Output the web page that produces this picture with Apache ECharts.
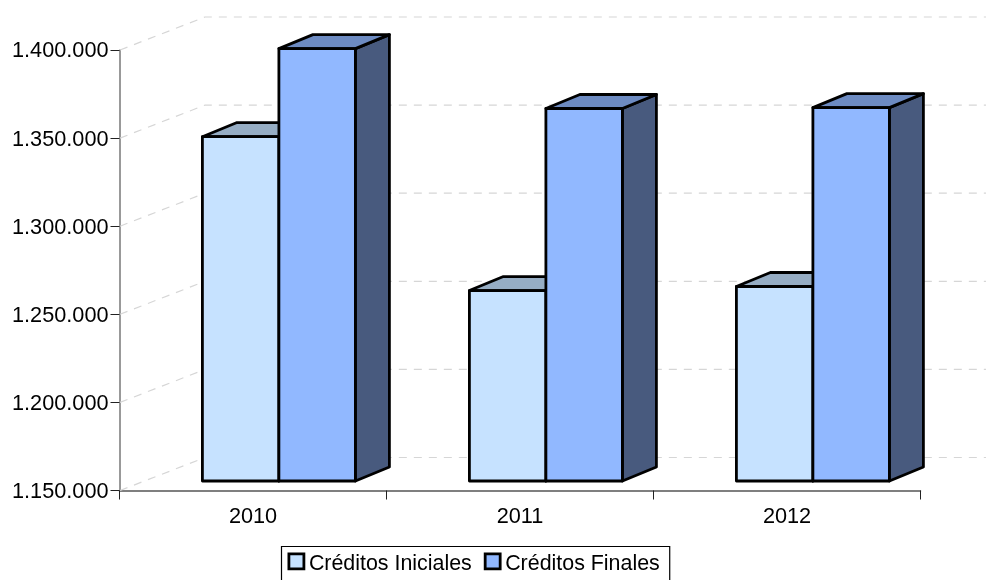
<!DOCTYPE html>
<html>
<head>
<meta charset="utf-8">
<style>html,body{margin:0;padding:0;background:#fff}#c{width:990px;height:580px}</style>
<script src="https://cdn.jsdelivr.net/npm/echarts@6/dist/echarts.min.js"></script>
</head>
<body>
<div id="c"></div>
<script>
var categories = ['2010', '2011', '2012'];
var creditosIniciales = [1345400, 1258100, 1260400];
var creditosFinales = [1395400, 1361400, 1361900];
var yTicks = [1150000, 1200000, 1250000, 1300000, 1350000, 1400000];

var FONT = '"Liberation Sans", Arial, sans-serif';
var FS = 21.7;
var BASE = 1150000;

var chart = echarts.init(document.getElementById('c'), null, {renderer: 'canvas'});

function bar3d(colors, shift) {
  return function (params, api) {
    var cat = api.value(0), val = api.value(1);
    var top = api.coord([cat, val]);
    var bot = api.coord([cat, BASE]);
    var w = 76.5, dx = 34, dy = 14;
    var x0 = top[0] + shift, x1 = x0 + w;
    var yt = top[1] - 9.5, yb = bot[1] - 9.5;
    var st = {stroke: '#000', lineWidth: 2.8, lineJoin: 'round'};
    function poly(points, fill) {
      return {type: 'polygon', shape: {points: points}, style: Object.assign({fill: fill}, st)};
    }
    return {type: 'group', children: [
      poly([[x1, yt], [x1 + dx, yt - dy], [x1 + dx, yb - dy], [x1, yb]], colors.side),
      poly([[x0, yt], [x0 + dx, yt - dy], [x1 + dx, yt - dy], [x1, yt]], colors.top),
      poly([[x0, yt], [x1, yt], [x1, yb], [x0, yb]], colors.front)
    ]};
  };
}

function wall(params, api) {
  var p = api.coord([0, api.value(0)]);
  var x = 120, y = p[1];
  return {type: 'polyline', silent: true, shape: {points: [[x, y], [205, y - 33], [986, y - 33]]},
    style: {fill: null, stroke: '#d6d6d6', lineWidth: 1.2, lineDash: [8, 7]}};
}

chart.setOption({
  animation: false,
  backgroundColor: '#fff',
  grid: {left: 119.5, right: 69.5, top: 50, bottom: 89.5, containLabel: false},
  xAxis: {
    type: 'category', data: categories,
    axisLine: {lineStyle: {color: '#555', width: 1.5}},
    axisTick: {show: true, length: 9, lineStyle: {color: '#222', width: 1}},
    axisLabel: {color: '#000', fontFamily: FONT, fontSize: FS, margin: 16},
    splitLine: {show: false}
  },
  yAxis: {
    type: 'value', min: 1150000, max: 1400000, interval: 50000,
    axisLine: {show: true, lineStyle: {color: '#777', width: 1.5}},
    axisTick: {show: true, length: 9, lineStyle: {color: '#222', width: 1}},
    axisLabel: {
      color: '#000', fontFamily: FONT, fontSize: FS, margin: 11,
      formatter: function (v) { return '{a|' + String(v).replace(/\B(?=(\d{3})+$)/g, '.') + '}'; },
      rich: {a: {color: '#000', fontFamily: FONT, fontSize: FS, padding: [3, 0, 0, 0]}}
    },
    splitLine: {show: false}
  },
  legend: {
    left: 281.5, top: 546.5,
    padding: [6, 10, 20, 6],
    borderColor: '#000', borderWidth: 1.2, backgroundColor: '#fff',
    itemWidth: 15, itemHeight: 15, itemGap: 12,
    formatter: function (name) { return '{a|' + name + '}'; },
    textStyle: {
      color: '#000', fontFamily: FONT, fontSize: 21.4,
      rich: {a: {color: '#000', fontFamily: FONT, fontSize: 21.4, padding: [5, 0, 0, 0]}}
    },
    data: [
      {name: 'Créditos Iniciales', icon: 'rect', itemStyle: {color: '#c6e2ff', borderColor: '#000', borderWidth: 2.8}},
      {name: 'Créditos Finales', icon: 'rect', itemStyle: {color: '#91b8ff', borderColor: '#000', borderWidth: 2.8}}
    ]
  },
  series: [
    {
      name: 'walls', type: 'custom', silent: true, z: 1,
      data: yTicks.map(function (v) { return [v]; }),
      encode: {y: 0},
      renderItem: wall
    },
    {
      name: 'Créditos Iniciales', type: 'custom', z: 2,
      itemStyle: {color: '#c6e2ff'},
      data: creditosIniciales.map(function (v, i) { return [i, v]; }),
      encode: {x: 0, y: 1},
      renderItem: bar3d({front: '#c6e2ff', top: '#96adc4', side: '#5f7187'}, -50.6)
    },
    {
      name: 'Créditos Finales', type: 'custom', z: 3,
      itemStyle: {color: '#91b8ff'},
      data: creditosFinales.map(function (v, i) { return [i, v]; }),
      encode: {x: 0, y: 1},
      renderItem: bar3d({front: '#91b8ff', top: '#6d8bc2', side: '#485a7e'}, 25.9)
    }
  ]
});
</script>
</body>
</html>
